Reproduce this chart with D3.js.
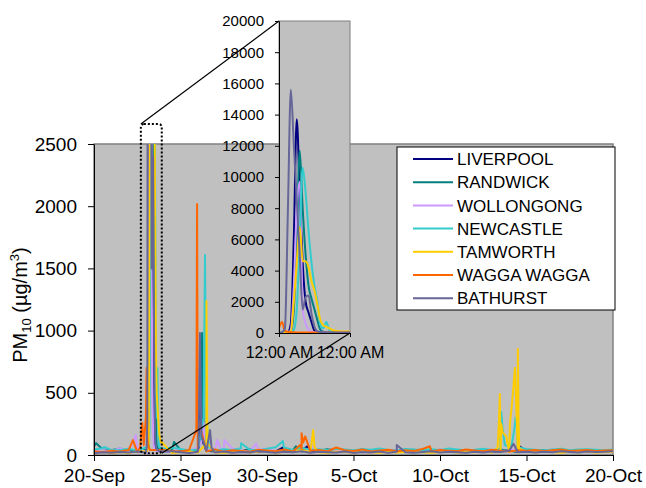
<!DOCTYPE html>
<html>
<head>
<meta charset="utf-8">
<script src="https://cdn.jsdelivr.net/npm/d3@7"></script>
<style>
  body { margin: 0; background: #fff; }
  text { font-family: "Liberation Sans", Arial, sans-serif; }
</style>
</head>
<body>
<div id="chart"></div>
<script>
// hours are counted from 20-Sep-2009 00:00
const stations = ['LIVERPOOL', 'RANDWICK', 'WOLLONGONG', 'NEWCASTLE', 'TAMWORTH', 'WAGGA WAGGA', 'BATHURST'];
const colors = ['#000080', '#008080', '#CC99FF', '#33CCCC', '#FFCC00', '#FF6600', '#666699'];

// background levels, one value every 12 hours
const liverpoolBase = [22,35,28,40,25,33,30,45,38,28, 32,26,40,34,29,37,24,31,42,27, 35,30,26,38,33,29,41,25,30,36, 28,34,39,26,31,27,44,30,25,33, 37,29,32,40,26,35,28,31,38,24, 30,36,27,33,41,29,26,34,31,28, 30];
const randwickBase = [70,45,38,52,30,41,35,48,44,36, 40,33,47,38,31,42,36,29,45,34, 39,30,43,37,28,41,35,46,32,38, 30,44,36,29,40,33,38,42,31,35, 43,28,37,34,40,30,36,45,33,29, 41,35,38,30,44,32,36,39,34,31, 37];
const wollongongBase = [25,40,30,55,28,45,30,35,40,26, 48,32,60,38,45,30,52,35,28,42, 50,33,27,38,30,44,36,25,34,40, 29,35,31,38,26,42,30,36,28,33, 45,30,27,39,34,28,41,32,36,30, 38,27,33,44,29,35,31,37,28,34, 30];
const newcastleBase = [45,55,40,38,50,35,40,45,42,60, 48,36,44,52,39,46,41,55,43,37, 50,62,45,40,58,43,47,39,51,44, 38,46,42,53,40,36,49,44,41,47, 39,52,45,38,43,50,41,46,44,40, 48,42,37,45,51,39,44,47,42,38, 45];
const tamworthBase = [20,28,15,25,18,30,22,20,26,17, 24,30,19,27,22,18,25,33,21,28, 35,20,24,30,40,26,22,19,28,24, 20,27,23,18,26,21,25,29,22,19, 24,28,20,26,23,30,21,27,24,20, 26,22,29,25,19,27,23,28,21,25, 24];
const waggaBase = [30,22,35,28,40,25,38,30,45,33, 28,40,35,30,45,27,38,32,26,42, 36,30,44,28,50,35,40,30,60,38, 32,45,28,36,42,30,38,33,48,29, 40,35,31,44,37,30,42,35,28,39, 34,41,30,38,45,32,36,40,33,37, 38];
const bathurstBase = [15,22,18,25,20,28,16,24,19,30, 22,17,26,35,20,28,18,24,21,32, 25,19,27,22,30,18,26,23,20,28, 17,24,21,29,19,26,22,18,25,30, 20,27,23,19,26,21,28,24,35,22, 26,20,27,23,30,25,21,28,24,26, 30];

// dust storm day, hourly from 23-Sep 00:00 to 24-Sep 00:00
const liverpoolStorm = [30,30,30,40,600,6000,13700,9000,4500,2000,1300,700,150,60,50,40,40,35,35,30,30,30,30,30,30];
const randwickStorm = [40,40,40,40,100,1500,6000,11700,8000,5000,3000,2200,1500,800,200,80,60,50,50,45,45,40,40,40,40];
const wollongongStorm = [20,20,20,20,200,3000,8000,9700,1500,600,200,80,50,40,35,30,30,30,30,30,30,30,30,30,30];
const newcastleStorm = [60,60,60,60,60,200,1500,6000,10600,9000,6500,4500,3000,2000,500,300,700,200,80,60,60,55,55,50,50];
const tamworthStorm = [30,30,30,50,100,2000,4500,6800,4600,4600,4200,3300,2700,1800,800,500,400,300,200,150,120,100,100,100,90];
const waggaStorm = [300,700,150,80,60,50,40,40,40,40,40,40,40,40,40,40,40,40,40,40,40,40,40,40,40];
const bathurstStorm = [20,50,300,7800,15600,12100,8600,5000,1500,2300,2400,1200,400,100,60,50,40,40,30,30,30,30,30,30,30];

// other events, [hour, value]
const liverpoolPeaks = [[146,80],[148,900],[150,120],[262,60],[296,70],[588,80]];
const randwickPeaks = [[3,95],[111,105],[148,150],[150,980],[152,200],[280,70]];
const wollongongPeaks = [[58,160],[62,60],[150,120],[152,260],[154,80],[171,120],[176,40],[181,120],[225,90],[300,70],[576,50]];
const newcastlePeaks = [[14,65],[152,300],[154,1608],[156,400],[158,145],[160,60],[204,95],[260,100],[262,112],[264,60],
  [564,300],[565,345],[567,200],[570,80],[574,70],[580,100],[583,200],[585,300],[587,200],[589,60]];
const tamworthPeaks = [[154,80],[156,1238],[157,300],[158,90],[302,100],[304,200],[306,60],
  [560,60],[562,300],[563,490],[565,250],[567,180],[572,150],[577,250],[580,420],[584,700],[588,852],[589,250],[590,50]];
const waggaPeaks = [[54,120],[64,60],[67,257],[69,80],[142,200],[143,2018],[144,300],[286,80],[288,175],[290,100],[293,150],[466,70]];
const bathurstPeaks = [[145,60],[147,980],[149,150],[161,200],[163,60],[420,80],[582,90]];

const yTicks = [0, 500, 1000, 1500, 2000, 2500];
const insetTicks = d3.range(0, 20001, 2000);

const t0 = Date.UTC(2009, 8, 20);
const hourDate = h => new Date(t0 + h * 3600e3);

function buildSeries(base, storm, peaks) {
  const pts = [];
  base.forEach((v, i) => { const h = i * 12; if (h < 72 || h > 96) pts.push([h, v]); });
  storm.forEach((v, i) => pts.push([72 + i, v]));
  peaks.forEach(p => pts.push(p));
  return pts.sort((a, b) => a[0] - b[0]);
}

const series = [
  buildSeries(liverpoolBase, liverpoolStorm, liverpoolPeaks),
  buildSeries(randwickBase, randwickStorm, randwickPeaks),
  buildSeries(wollongongBase, wollongongStorm, wollongongPeaks),
  buildSeries(newcastleBase, newcastleStorm, newcastlePeaks),
  buildSeries(tamworthBase, tamworthStorm, tamworthPeaks),
  buildSeries(waggaBase, waggaStorm, waggaPeaks),
  buildSeries(bathurstBase, bathurstStorm, bathurstPeaks)
];

const W = 646, H = 488;
const plot = { left: 94, right: 613, top: 144, bottom: 455 };
const ins = { left: 279, right: 350, top: 21, bottom: 333 };
// dotted box marking the zoomed period (hours, values)
const zoomBox = { start: 65, end: 94, top: 2660, bottom: 15 };

const svg = d3.select('#chart').append('svg')
  .attr('width', W).attr('height', H);

const x = d3.scaleUtc()
  .domain([hourDate(0), hourDate(720)])
  .range([plot.left, plot.right]);
const y = d3.scaleLinear().domain([0, 2500]).range([plot.bottom, plot.top]);

svg.append('rect')
  .attr('x', plot.left).attr('y', plot.top)
  .attr('width', plot.right - plot.left).attr('height', plot.bottom - plot.top)
  .attr('fill', '#C0C0C0').attr('stroke', '#808080').attr('stroke-width', 1.5);

svg.append('clipPath').attr('id', 'mainClip').append('rect')
  .attr('x', plot.left).attr('y', plot.top)
  .attr('width', plot.right - plot.left).attr('height', plot.bottom - plot.top);

const line = d3.line().x(d => x(hourDate(d[0]))).y(d => y(d[1]));

svg.append('g').attr('clip-path', 'url(#mainClip)')
  .selectAll('path').data(series).join('path')
  .attr('d', line)
  .attr('fill', 'none')
  .attr('stroke', (d, i) => colors[i])
  .attr('stroke-width', 2)
  .attr('stroke-linejoin', 'round');

// axes
const xAxis = svg.append('g')
  .attr('transform', `translate(0,${plot.bottom})`)
  .call(d3.axisBottom(x)
    .tickValues(d3.range(0, 721, 120).map(hourDate))
    .tickFormat(d3.utcFormat('%-d-%b'))
    .tickSize(6).tickSizeOuter(0).tickPadding(8));
const yAxis = svg.append('g')
  .attr('transform', `translate(${plot.left},0)`)
  .call(d3.axisLeft(y).tickValues(yTicks).tickFormat(d3.format('d'))
    .tickSize(6).tickSizeOuter(0).tickPadding(11));
[xAxis, yAxis].forEach(g => {
  g.selectAll('text').attr('font-size', 19).attr('fill', '#000')
    .attr('font-family', '"Liberation Sans", Arial, sans-serif');
  g.selectAll('line, path').attr('stroke', '#000');
});

const title = svg.append('text')
  .attr('transform', 'translate(27,305) rotate(-90)')
  .attr('text-anchor', 'middle')
  .attr('font-size', 20);
title.append('tspan').text('PM');
title.append('tspan').attr('font-size', 13).attr('dy', 4).text('10');
title.append('tspan').attr('dy', -4).text(' (µg/m');
title.append('tspan').attr('font-size', 13).attr('dy', -8).text('3');
title.append('tspan').attr('dy', 8).text(')');

// legend
const lg = { x: 397, y: 147, w: 218, h: 163, row: 23.2 };
svg.append('rect')
  .attr('x', lg.x).attr('y', lg.y).attr('width', lg.w).attr('height', lg.h)
  .attr('fill', '#fff').attr('stroke', '#000').attr('stroke-width', 1);
const items = svg.append('g').selectAll('g').data(stations).join('g')
  .attr('transform', (d, i) => `translate(${lg.x},${lg.y + 12 + i * lg.row})`);
items.append('line')
  .attr('x1', 16).attr('x2', 56)
  .attr('stroke', (d, i) => colors[i]).attr('stroke-width', 2);
items.append('text')
  .attr('x', 60).attr('dy', '0.36em')
  .attr('font-size', 17).text(d => d);

// inset: hourly detail for 23-Sep
const ix = d3.scaleUtc()
  .domain([hourDate(72), hourDate(96)])
  .range([ins.left, ins.right]);
const iy = d3.scaleLinear().domain([0, 20000]).range([ins.bottom, ins.top]);

svg.append('rect')
  .attr('x', ins.left).attr('y', ins.top)
  .attr('width', ins.right - ins.left).attr('height', ins.bottom - ins.top)
  .attr('fill', '#C0C0C0').attr('stroke', '#808080').attr('stroke-width', 1);

svg.append('clipPath').attr('id', 'insetClip').append('rect')
  .attr('x', ins.left).attr('y', ins.top)
  .attr('width', ins.right - ins.left).attr('height', ins.bottom - ins.top);

const iline = d3.line()
  .x(d => ix(hourDate(d[0]))).y(d => iy(d[1]))
  .curve(d3.curveMonotoneX);

svg.append('g').attr('clip-path', 'url(#insetClip)')
  .selectAll('path').data(series.map(s => s.filter(p => p[0] >= 72 && p[0] <= 96))).join('path')
  .attr('d', iline)
  .attr('fill', 'none')
  .attr('stroke', (d, i) => colors[i])
  .attr('stroke-width', 2);

const ixAxis = svg.append('g')
  .attr('transform', `translate(0,${ins.bottom})`)
  .call(d3.axisBottom(ix)
    .tickValues([hourDate(72), hourDate(96)])
    .tickFormat(d3.utcFormat('%-I:%M %p'))
    .tickSize(4).tickSizeOuter(0).tickPadding(10));
const iyAxis = svg.append('g')
  .attr('transform', `translate(${ins.left},0)`)
  .call(d3.axisLeft(iy).tickValues(insetTicks).tickFormat(d3.format('d'))
    .tickSize(4).tickSizeOuter(0).tickPadding(11));
[ixAxis, iyAxis].forEach(g => {
  g.selectAll('text').attr('font-size', 15).attr('fill', '#000')
    .attr('font-family', '"Liberation Sans", Arial, sans-serif');
  g.selectAll('line, path').attr('stroke', '#000');
});
ixAxis.selectAll('text').attr('font-size', 16);

// zoom marker and connectors
const bx0 = x(hourDate(zoomBox.start)), bx1 = x(hourDate(zoomBox.end));
const by0 = y(zoomBox.top), by1 = y(zoomBox.bottom);
svg.append('rect')
  .attr('x', bx0).attr('y', by0)
  .attr('width', bx1 - bx0).attr('height', by1 - by0)
  .attr('rx', 3)
  .attr('fill', 'none').attr('stroke', '#000')
  .attr('stroke-width', 2).attr('stroke-dasharray', '2,2');
svg.append('line')
  .attr('x1', bx0).attr('y1', by0).attr('x2', ins.left).attr('y2', ins.top)
  .attr('stroke', '#000').attr('stroke-width', 1.2);
svg.append('line')
  .attr('x1', bx1).attr('y1', by1).attr('x2', ins.right).attr('y2', ins.bottom)
  .attr('stroke', '#000').attr('stroke-width', 1.2);
</script>
</body>
</html>
